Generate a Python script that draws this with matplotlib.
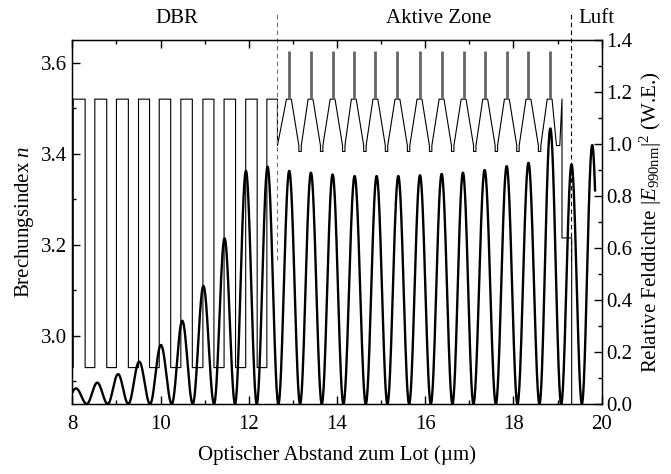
import numpy as np
import matplotlib
matplotlib.use('Agg')
import matplotlib.pyplot as plt
from matplotlib.ticker import MultipleLocator

plt.rcParams['font.family'] = ['Liberation Serif', 'DejaVu Serif']
plt.rcParams['mathtext.fontset'] = 'custom'
plt.rcParams['mathtext.rm'] = 'Liberation Serif'
plt.rcParams['mathtext.it'] = 'Liberation Serif:italic'
plt.rcParams['font.size'] = 15

# ---------------- data ----------------
# DBR (quarter-wave stack): high-index layer start / end (optical distance, um)
dbr_high_start = [8.02, 8.51, 9.00, 9.50, 9.97, 10.46, 10.96, 11.44, 11.93, 12.41]
dbr_high_end = [8.29, 8.78, 9.27, 9.75, 10.23, 10.72, 11.21, 11.70, 12.19, 12.65]
n_low = 2.93
n_high = 3.52

# active zone: quantum-well positions and index levels
qw_pos = [12.91, 13.40, 13.90, 14.38, 14.87, 15.37, 15.87, 16.37, 16.87,
          17.36, 17.85, 18.34, 18.82]
n_barrier = 3.52
n_qw = 3.625
n_valley = 3.418
n_notch = 3.405
# layer offsets relative to each well centre (um)
top_half = 0.055
valley_start = 0.225
valley_end = 0.28

# cap layers and air after the active zone
cap_x = [18.975, 19.05, 19.10, 19.10, 19.32, 19.32, 20.5]
cap_n = [3.418, 3.418, 3.52, 3.215, 3.215, 1.0, 1.0]

# relative field intensity: zero crossings and lobe peak values
field_zeros = [7.84, 8.327, 8.803, 9.27, 9.762, 10.254, 10.730, 11.213, 11.689,
               12.181, 12.671, 13.163, 13.655, 14.145, 14.653, 15.143, 15.635,
               16.127, 16.617, 17.093, 17.601, 18.091, 18.590, 19.082, 19.551, 20.02]
field_peaks = [0.06, 0.082, 0.115, 0.163, 0.227, 0.32, 0.454, 0.637, 0.897,
               0.913, 0.897, 0.89, 0.883, 0.877, 0.877, 0.877, 0.88, 0.885,
               0.89, 0.90, 0.915, 0.928, 1.06, 0.922, 0.996]
field_end = 19.85

region_bounds = [12.635, 19.30]
region_labels = ['DBR', 'Aktive Zone', 'Luft']
region_label_x = [10.37, 16.30, 19.47]

# ---------------- build index profile ----------------
px, pn = [7.8], [n_low]
for i, (hs, he) in enumerate(zip(dbr_high_start, dbr_high_end)):
    last = (i == len(dbr_high_start) - 1)
    px += [hs, hs, he, he]
    pn += [n_low, n_high, n_high, n_valley if last else n_low]
for i, s in enumerate(qw_pos):
    px += [s - top_half, s + top_half]
    pn += [n_barrier, n_barrier]
    if i < len(qw_pos) - 1:
        px += [s + valley_start, s + valley_start, s + valley_end, s + valley_end]
        pn += [n_valley, n_notch, n_notch, n_valley]
px += cap_x
pn += cap_n

# ---------------- build field curve ----------------
fx, fy = [], []
for z0, z1, p in zip(field_zeros[:-1], field_zeros[1:], field_peaks):
    xx = np.linspace(z0, min(z1, field_end), 60)
    fx.append(xx)
    fy.append(p * np.sin(np.pi * (xx - z0) / (z1 - z0)) ** 2)
fx = np.concatenate(fx)
fy = np.concatenate(fy)

# ---------------- plot ----------------
fig = plt.figure(figsize=(6.71, 4.74), dpi=100)
ax = fig.add_axes([0.1078, 0.1477, 0.7889, 0.7679])
ax.plot(px, pn, color='black', lw=0.8)
ax.vlines(qw_pos, n_barrier, n_qw, color='0.4', lw=2.0)
ax.set_xlim(8, 20)
ax.set_ylim(2.85, 3.65)
ax.xaxis.set_major_locator(MultipleLocator(2))
ax.xaxis.set_minor_locator(MultipleLocator(1))
ax.yaxis.set_major_locator(MultipleLocator(0.2))
ax.yaxis.set_minor_locator(MultipleLocator(0.1))
ax.tick_params(which='both', direction='in', top=True, right=False, width=1.0)
ax.tick_params(which='major', length=6)
ax.tick_params(which='minor', length=3)
ax.tick_params(axis='x', pad=8)
ax.set_xlabel('Optischer Abstand zum Lot (µm)', labelpad=8)
ax.set_ylabel(r'Brechungsindex $n$')
for sp in ax.spines.values():
    sp.set_linewidth(1.0)

for xb, col in zip(region_bounds, ['0.45', 'black']):
    ax.plot([xb, xb], [3.167, 3.709], color=col, lw=0.8, ls=(0, (4, 3)), clip_on=False)
for lab, xl in zip(region_labels, region_label_x):
    ax.text(xl, 3.697, lab, ha='left' if lab == 'Luft' else 'center', va='center')

ax2 = ax.twinx()
ax2.plot(fx, fy, color='black', lw=1.7)
ax2.set_ylim(0, 1.4)
ax2.yaxis.set_major_locator(MultipleLocator(0.2))
ax2.yaxis.set_minor_locator(MultipleLocator(0.1))
ax2.yaxis.set_major_formatter(matplotlib.ticker.FormatStrFormatter('%.1f'))
ax2.tick_params(which='both', direction='in', left=False, right=True, width=1.0)
ax2.tick_params(which='major', length=6)
ax2.tick_params(which='minor', length=3)
ax2.set_ylabel(r'Relative Felddichte $|E_{990\mathrm{nm}}|^2$ (W.E.)')

fig.savefig('out.png', dpi=100)
